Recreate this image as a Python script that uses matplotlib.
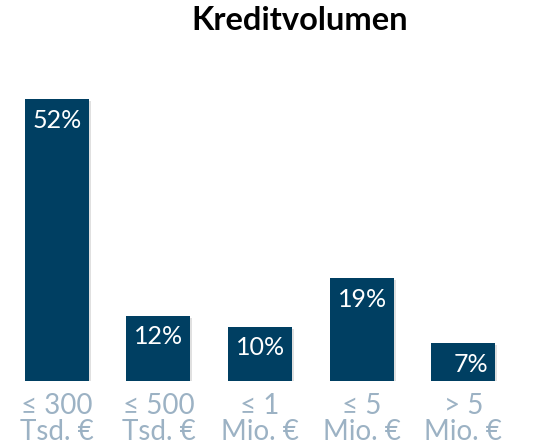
import matplotlib.pyplot as plt
import matplotlib.patheffects as pe

plt.rcParams['font.family'] = ['Lato', 'DejaVu Sans']

categories = ['≤ 300\nTsd. €', '≤ 500\nTsd. €', '≤ 1\nMio. €', '≤ 5\nMio. €', '> 5\nMio. €']
shares = [52, 12, 10, 19, 7]
value_labels = ['52%', '12%', '10%', '19%', '7%']

bar_color = '#003f62'
label_color = '#9cb2c4'

fig = plt.figure(figsize=(5.49, 4.46), dpi=100)
# axes placed in figure pixels: left 6, right 514, bottom 381 (from top), top 56
ax = fig.add_axes([6 / 549, (446 - 381) / 446, 508 / 549, 325 / 446])

x = list(range(len(shares)))
width = 0.63
bars = ax.bar(x, shares, width=width, color=bar_color, zorder=2)
for b in bars:
    b.set_path_effects([pe.SimplePatchShadow(offset=(1.5, -1.5), shadow_rgbFace='#000000', alpha=0.12),
                        pe.Normal()])

for xi, v, lab in zip(x, shares, value_labels):
    ax.annotate(lab, xy=(xi + width / 2, v), xytext=(-7, -21), textcoords='offset pixels',
                ha='right', va='center', color='white', fontsize=18)

ax.set_xlim(-0.5, 4.5)
ax.set_ylim(0, 60)
ax.set_xticks(x)
ax.set_xticklabels(categories, color=label_color, fontsize=20, linespacing=1.0)
ax.tick_params(axis='x', length=0, pad=9)
ax.set_yticks([])
for s in ax.spines.values():
    s.set_visible(False)

fig.text(300 / 549, 1 - 21 / 446, 'Kreditvolumen', ha='center', va='center',
         fontsize=23.5, fontweight='bold', color='black')

fig.savefig('out.png', dpi=100)
